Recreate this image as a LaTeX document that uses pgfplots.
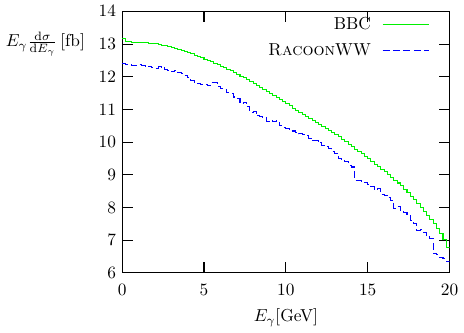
\documentclass[border=0pt]{standalone}
\usepackage{pgfplots}
\pgfplotsset{compat=1.18}

\pgfplotstableread{
E     v
0.0   13.17
0.2   13.08
0.4   13.07
0.6   13.06
0.8   13.06
1.0   13.05
1.2   13.05
1.4   13.04
1.6   13.03
1.8   13.02
2.0   13.01
2.2   12.99
2.4   12.97
2.6   12.95
2.8   12.93
3.0   12.90
3.2   12.87
3.4   12.84
3.6   12.81
3.8   12.78
4.0   12.74
4.2   12.70
4.4   12.66
4.6   12.62
4.8   12.58
5.0   12.54
5.2   12.50
5.4   12.46
5.6   12.41
5.8   12.37
6.0   12.32
6.2   12.28
6.4   12.23
6.6   12.18
6.8   12.13
7.0   12.08
7.2   12.02
7.4   11.97
7.6   11.91
7.8   11.86
8.0   11.80
8.2   11.74
8.4   11.68
8.6   11.62
8.8   11.56
9.0   11.50
9.2   11.44
9.4   11.37
9.6   11.31
9.8   11.24
10.0  11.18
10.2  11.11
10.4  11.04
10.6  10.97
10.8  10.91
11.0  10.85
11.2  10.79
11.4  10.72
11.6  10.66
11.8  10.60
12.0  10.54
12.2  10.48
12.4  10.42
12.6  10.35
12.8  10.29
13.0  10.22
13.2  10.16
13.4  10.09
13.6  10.02
13.8  9.94
14.0  9.86
14.2  9.78
14.4  9.71
14.6  9.64
14.8  9.57
15.0  9.49
15.2  9.41
15.4  9.33
15.6  9.25
15.8  9.17
16.0  9.09
16.2  9.01
16.4  8.92
16.6  8.83
16.8  8.75
17.0  8.66
17.2  8.56
17.4  8.46
17.6  8.35
17.8  8.24
18.0  8.12
18.2  8.00
18.4  7.88
18.6  7.76
18.8  7.63
19.0  7.50
19.2  7.37
19.4  7.20
19.6  7.02
19.8  6.78
20.0  6.78
}\bbc

\pgfplotstableread{
E     v
0.0   12.40
0.2   12.38
0.4   12.36
0.6   12.35
0.8   12.33
1.0   12.36
1.2   12.33
1.4   12.30
1.6   12.32
1.8   12.29
2.0   12.26
2.2   12.30
2.4   12.27
2.6   12.21
2.8   12.20
3.0   12.15
3.2   12.20
3.4   12.12
3.6   12.10
3.8   12.05
4.0   11.98
4.2   11.88
4.4   11.80
4.6   11.78
4.8   11.76
5.0   11.77
5.2   11.72
5.4   11.82
5.6   11.81
5.8   11.70
6.0   11.64
6.2   11.62
6.4   11.52
6.6   11.50
6.8   11.38
7.0   11.33
7.2   11.18
7.4   11.22
7.6   11.08
7.8   10.92
8.0   10.94
8.2   10.80
8.4   10.78
8.6   10.74
8.8   10.64
9.0   10.66
9.2   10.62
9.4   10.65
9.6   10.50
9.8   10.44
10.0  10.42
10.2  10.36
10.4  10.34
10.6  10.30
10.8  10.26
11.0  10.23
11.2  10.20
11.4  10.12
11.6  10.04
11.8  10.05
12.0  9.98
12.2  9.90
12.4  9.88
12.6  9.80
12.8  9.72
13.0  9.66
13.2  9.50
13.4  9.46
13.6  9.40
13.8  9.30
14.0  9.24
14.2  8.84
14.4  8.82
14.6  8.78
14.8  8.76
15.0  8.70
15.2  8.64
15.4  8.56
15.6  8.58
15.8  8.40
16.0  8.38
16.2  8.30
16.4  8.22
16.6  7.98
16.8  8.02
17.0  7.90
17.2  7.84
17.4  7.78
17.6  7.60
17.8  7.50
18.0  7.30
18.2  7.32
18.4  7.24
18.6  7.10
18.8  7.06
19.0  6.60
19.2  6.55
19.4  6.46
19.6  6.44
19.8  6.35
20.0  6.35
}\racoon

\definecolor{gpgreen}{RGB}{0,240,0}
\definecolor{gpblue}{RGB}{0,0,255}

\begin{document}
\begin{tikzpicture}
\begin{axis}[
    scale only axis,
    width=189pt, height=151pt,
    xmin=0, xmax=20, ymin=6, ymax=14,
    xtick={0,5,...,20}, ytick={6,7,...,14},
    tick align=inside,
    major tick length=6.3pt,
    minor tick num=0,
    axis line style={line width=0.6pt},
    tick style={line width=0.6pt, black},
    xticklabel style={yshift=-3.3pt},
    xlabel={$E_\gamma$[GeV]},
    xlabel style={yshift=-0.4pt},
    ylabel={$E_\gamma\frac{\mathrm{d}\sigma}{\mathrm{d}E_\gamma}$\,[fb]},
    every axis y label/.style={at={(rel axis cs:0,0.875)}, anchor=east, xshift=-18pt},
    legend style={draw=none, fill=none, at={(rel axis cs:0.957,1.005)}, anchor=north east,
                  row sep=2.5pt},
    legend cell align=right,
    legend plot pos=right,
    legend image code/.code={\path (0pt,0pt); \draw[#1] (4.5pt,0pt) -- (31.5pt,0pt);},
]
\addlegendimage{color=gpgreen, line width=0.6pt}
\addlegendentry{BBC}
\addlegendimage{color=gpblue, line width=0.6pt, dash pattern=on 4pt off 2pt}
\addlegendentry{\textsc{Racoon}WW}
\addplot[const plot, color=gpgreen, line width=0.6pt, forget plot] table[x=E, y=v] {\bbc};
\addplot[const plot, color=gpblue, line width=0.6pt, dash pattern=on 4pt off 2pt, forget plot] table[x=E, y=v] {\racoon};
\end{axis}
\end{tikzpicture}
\end{document}
